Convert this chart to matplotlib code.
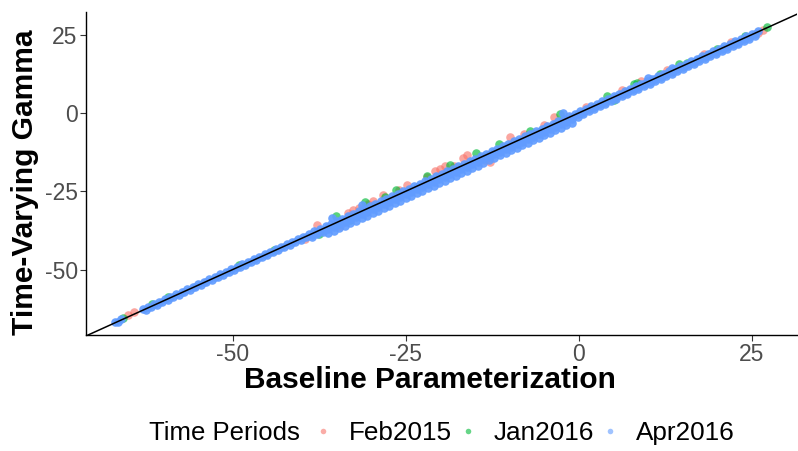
import matplotlib
matplotlib.use("Agg")
import matplotlib.pyplot as plt
from matplotlib.lines import Line2D

plt.rcParams["font.family"] = ["Liberation Sans", "DejaVu Sans"]
plt.rcParams["axes.unicode_minus"] = False

# ---- data (x = baseline, y = time-varying) ----
periods = ["Feb2015", "Jan2016", "Apr2016"]
colors = ["#F8766D", "#00BA38", "#619CFF"]

feb15_x = [-65.1, -64.2, -39.5, -37.9, -34.5, -33.6, -33.4, -32.6, -31.8, -30.5,
           -29.8, -28.3, -26.0, -24.9, -22.0, -20.8, -20.1, -19.4, -18.0, -16.7,
           -16.2, -14.3, -13.6, -12.9, -10.0, -8.0, -5.0, -3.6, 1.0, 3.8,
           6.2, 9.0, 12.7, 18.0, 22.0, 25.9, 26.6]
feb15_y = [-64.6, -63.6, -40.2, -35.7, -36.0, -34.6, -31.8, -31.0, -30.3, -29.0,
           -28.2, -26.1, -24.6, -22.9, -20.6, -18.6, -17.8, -17.0, -16.8, -14.4,
           -13.6, -14.6, -15.2, -15.6, -7.6, -6.8, -3.9, -1.4, 1.9, 3.4,
           7.3, 10.1, 13.7, 18.7, 22.6, 25.6, 26.4]

jan16_x = [-65.9, -61.7, -59.4, -49.1, -44.0, -37.6, -35.1, -33.1, -30.9, -28.0,
           -26.4, -22.0, -18.6, -14.8, -11.6, -7.0, -2.8, 4.0, 5.0, 7.9,
           8.4, 11.7, 14.5, 15.6, 20.0, 24.0, 27.2]
jan16_y = [-65.5, -61.1, -58.8, -48.7, -43.8, -38.6, -33.0, -34.1, -28.4, -26.8,
           -24.5, -20.3, -16.6, -12.8, -10.0, -5.9, -0.5, 5.5, 4.1, 9.3,
           9.6, 12.4, 15.5, 16.0, 20.4, 24.4, 27.3]

# Apr2016: the dense band, read row by row
apr16_top_x = [-67.0, -66.2,
               -63.0, -62.2, -61.4, -60.6, -59.8, -59.0, -58.2, -57.4, -56.6, -55.8,
               -55.0, -54.2, -53.4, -52.6, -51.8, -51.0, -50.2, -49.4, -48.6, -47.8,
               -47.0, -46.2, -45.4, -44.6, -43.8, -43.0, -42.2, -41.4, -40.6, -39.8,
               -39.0, -38.2, -37.4, -36.6, -35.8, -35.0, -34.2, -33.4, -32.6, -31.8,
               -31.0, -30.2, -29.4, -28.6, -27.8, -27.0, -26.2, -25.4, -24.6, -23.8,
               -23.0, -22.2, -21.4, -20.6, -19.8, -19.0, -18.2, -17.4, -16.6, -15.8,
               -15.0, -14.2, -13.4, -12.6, -11.8, -11.0, -10.2, -9.4, -8.6, -7.8,
               -7.0, -6.2, -5.4, -4.6, -3.8, -3.0, -2.2, -1.4, -0.6, 0.2,
               1.0, 1.8, 2.6, 3.4, 4.2, 5.0, 5.8, 6.6, 7.4, 8.2,
               9.0, 9.8, 10.6, 11.4, 12.2, 13.0, 13.8, 14.6, 15.4, 16.2,
               17.0, 17.8, 18.6, 19.4, 20.2, 21.0, 21.8, 22.6, 23.4, 24.2,
               25.0, 25.8]
apr16_top_y = [-66.7, -65.9,
               -62.6, -61.9, -61.0, -60.3, -59.4, -58.7, -57.8, -57.1, -56.2, -55.5,
               -54.6, -53.9, -53.0, -52.3, -51.4, -50.7, -49.8, -49.1, -48.2, -47.5,
               -46.6, -45.9, -45.0, -44.3, -43.4, -42.7, -41.8, -41.1, -40.2, -39.5,
               -38.6, -37.8, -37.0, -36.2, -35.4, -34.6, -33.8, -33.0, -32.2, -31.4,
               -30.6, -29.8, -29.0, -28.2, -27.4, -26.6, -25.8, -25.0, -24.2, -23.4,
               -22.6, -21.8, -21.0, -20.2, -19.4, -18.6, -17.8, -17.0, -16.2, -15.4,
               -14.6, -13.8, -13.0, -12.2, -11.4, -10.6, -9.8, -9.0, -8.2, -7.4,
               -6.6, -5.8, -5.0, -4.2, -3.4, -2.6, -1.8, -1.0, -0.2, 0.5,
               1.3, 2.1, 2.9, 3.7, 4.5, 5.3, 6.1, 6.9, 7.7, 8.5,
               9.3, 10.1, 10.9, 11.7, 12.5, 13.3, 14.1, 14.9, 15.7, 16.5,
               17.3, 18.1, 18.9, 19.7, 20.5, 21.3, 22.1, 22.9, 23.7, 24.5,
               25.3, 26.1]

apr16_line_x = [-66.6,
                -62.6, -61.8, -61.0, -60.2, -59.4, -58.6, -57.8, -57.0, -56.2, -55.4,
                -54.6, -53.8, -53.0, -52.2, -51.4, -50.6, -49.8, -49.0, -48.2, -47.4,
                -46.6, -45.8, -45.0, -44.2, -43.4, -42.6, -41.8, -41.0, -40.2, -39.4,
                -38.6, -37.8, -37.0, -36.2, -35.4, -34.6, -33.8, -33.0, -32.2, -31.4,
                -30.6, -29.8, -29.0, -28.2, -27.4, -26.6, -25.8, -25.0, -24.2, -23.4,
                -22.6, -21.8, -21.0, -20.2, -19.4, -18.6, -17.8, -17.0, -16.2, -15.4,
                -14.6, -13.8, -13.0, -12.2, -11.4, -10.6, -9.8, -9.0, -8.2, -7.4,
                -6.6, -5.8, -5.0, -4.2, -3.4, -2.6, -1.8, -1.0, -0.2, 0.6,
                1.4, 2.2, 3.0, 3.8, 4.6, 5.4, 6.2, 7.0, 7.8, 8.6,
                9.4, 10.2, 11.0, 11.8, 12.6, 13.4, 14.2, 15.0, 15.8, 16.6,
                17.4, 18.2, 19.0, 19.8, 20.6, 21.4, 22.2, 23.0, 23.8, 24.6,
                25.4]
apr16_line_y = [-66.9,
                -62.9, -62.1, -61.3, -60.5, -59.7, -58.9, -58.1, -57.3, -56.5, -55.7,
                -54.9, -54.1, -53.3, -52.5, -51.7, -50.9, -50.1, -49.3, -48.5, -47.7,
                -46.9, -46.1, -45.3, -44.5, -43.7, -42.9, -42.1, -41.3, -40.5, -39.7,
                -38.9, -38.1, -37.3, -36.5, -35.7, -34.9, -34.1, -33.3, -32.5, -31.7,
                -30.9, -30.1, -29.3, -28.5, -27.7, -26.9, -26.1, -25.3, -24.5, -23.7,
                -22.9, -22.1, -21.3, -20.5, -19.7, -18.9, -18.1, -17.3, -16.5, -15.7,
                -14.9, -14.1, -13.3, -12.5, -11.7, -10.9, -10.1, -9.3, -8.5, -7.7,
                -6.9, -6.1, -5.3, -4.5, -3.7, -2.9, -2.1, -1.3, -0.5, 0.3,
                1.1, 1.9, 2.7, 3.5, 4.3, 5.1, 5.9, 6.7, 7.5, 8.3,
                9.1, 9.9, 10.7, 11.5, 12.3, 13.1, 13.9, 14.7, 15.5, 16.3,
                17.1, 17.9, 18.7, 19.5, 20.3, 21.1, 21.9, 22.7, 23.5, 24.3,
                25.1]

apr16_mid_x = [-38.6, -37.8, -37.0, -36.2, -35.4, -34.6, -33.8, -33.0, -32.2, -31.4,
               -30.6, -29.8, -29.0, -28.2, -27.4, -26.6, -25.8, -25.0, -24.2, -23.4,
               -22.6, -21.8, -21.0, -20.2, -19.4, -18.6, -17.8, -17.0, -16.2, -15.4,
               -14.6, -13.8, -13.0, -12.2, -11.4, -10.6, -9.8, -9.0, -8.2, -7.4,
               -6.6, -5.8, -5.0, -4.2, -3.4, -2.6, -1.8, -1.0, -0.2, 0.6,
               1.4, 2.2, 3.0, 3.8, 4.6, 5.4, 6.2, 7.0, 7.8, 8.6,
               9.4, 10.2, 11.0, 11.8, 12.6, 13.4, 14.2, 15.0, 15.8, 16.6,
               17.4, 18.2, 19.0, 19.8, 20.6, 21.4, 22.2, 23.0, 23.8, 24.6, 25.4]
apr16_mid_y = [-39.5, -38.8, -38.0, -37.2, -36.4, -35.6, -34.8, -34.0, -33.2, -32.4,
               -31.6, -30.8, -30.0, -29.2, -28.4, -27.6, -26.8, -26.0, -25.2, -24.4,
               -23.6, -22.8, -22.0, -21.2, -20.4, -19.6, -18.8, -18.0, -17.2, -16.4,
               -15.6, -14.8, -14.0, -13.2, -12.4, -11.6, -10.8, -10.0, -9.2, -8.4,
               -7.6, -6.8, -6.0, -5.2, -4.4, -3.6, -2.8, -2.0, -1.2, -0.3,
               0.5, 1.3, 2.1, 2.9, 3.7, 4.5, 5.3, 6.1, 6.9, 7.7,
               8.5, 9.3, 10.1, 10.9, 11.7, 12.5, 13.3, 14.1, 14.9, 15.7,
               16.5, 17.3, 18.1, 18.9, 19.7, 20.5, 21.3, 22.1, 22.9, 23.7, 24.5]

apr16_low_x = [-36.2, -35.4, -34.6, -33.8, -33.0, -32.2, -31.4, -30.6, -29.8, -29.0,
               -28.2, -27.4, -26.6, -25.8, -25.0, -24.2, -23.4, -22.6, -21.8, -21.0,
               -20.2, -19.4, -18.6, -17.8, -17.0, -16.2, -15.4, -14.6, -13.8, -13.0,
               -12.2, -11.4, -10.6, -9.8, -9.0, -8.2, -7.4, -6.6, -5.8, -5.0,
               -4.2, -3.4, -2.6, -1.8, -1.0]
apr16_low_y = [-38.4, -37.6, -36.8, -36.0, -35.2, -34.4, -33.6, -32.8, -32.0, -31.2,
               -30.4, -29.6, -28.8, -28.0, -27.2, -26.4, -25.6, -24.8, -24.0, -23.2,
               -22.4, -21.6, -20.8, -20.0, -19.2, -18.4, -17.6, -16.8, -16.0, -15.2,
               -14.4, -13.6, -12.8, -12.0, -11.2, -10.4, -9.6, -8.8, -8.0, -7.2,
               -6.4, -5.6, -4.8, -4.0, -3.2]

apr16_out_x = [-35.7, -31.4, -2.3, 10.0, 13.4]
apr16_out_y = [-33.5, -29.3, 0.1, 11.0, 14.2]

ticks = [-50, -25, 0, 25]

apr16_x = apr16_top_x + apr16_line_x + apr16_mid_x + apr16_low_x + apr16_out_x
apr16_y = apr16_top_y + apr16_line_y + apr16_mid_y + apr16_low_y + apr16_out_y
series = [(feb15_x, feb15_y), (jan16_x, jan16_y), (apr16_x, apr16_y)]
# the real band is thousands of overlapping points, so Apr2016 reads as solid
alphas = [0.65, 0.65, 0.92]

fig = plt.figure(figsize=(7.98, 4.51), dpi=100)
ax = fig.add_axes([86 / 798, 1 - 335 / 451, (797 - 86) / 798, (335 - 12) / 451])

for (xs, ys), col, a, name in zip(series, colors, alphas, periods):
    ax.scatter(xs, ys, s=38, color=col, alpha=a, linewidths=0, label=name)

ax.axline((0, 0), slope=1, color="black", lw=1.1, zorder=5)

ax.set_xlim(-71.2, 31.5)
ax.set_ylim(-70.9, 32.2)
ax.set_xticks(ticks)
ax.set_yticks(ticks)
for side in ["top", "right"]:
    ax.spines[side].set_visible(False)
for side in ["left", "bottom"]:
    ax.spines[side].set_linewidth(1.0)
ax.tick_params(length=4, width=0.8, color="#333333", labelcolor="#4D4D4D",
               labelsize=16.5, pad=2)

ax.set_xlabel("Baseline Parameterization", fontsize=21.5, fontweight="bold")
ax.set_ylabel("Time-Varying Gamma", fontsize=21.5, fontweight="bold")
ax.xaxis.set_label_coords(0.484, -0.095)
ax.yaxis.set_label_coords(-0.066, 0.472)

handles = [Line2D([0], [0], marker="o", ls="none", markersize=4,
                  markerfacecolor=c, markeredgecolor="none", alpha=0.6)
           for c in colors]
fig.legend(handles, periods, loc="center left", bbox_to_anchor=(315 / 798, 1 - 433 / 451),
           ncol=3, frameon=False, fontsize=18.8, handlelength=0.6, handletextpad=0.7,
           columnspacing=0.3, borderpad=0, borderaxespad=0)
fig.text(149 / 798, 1 - 433 / 451, "Time Periods", fontsize=18.5, ha="left", va="center")

fig.savefig("out.png", dpi=100)
